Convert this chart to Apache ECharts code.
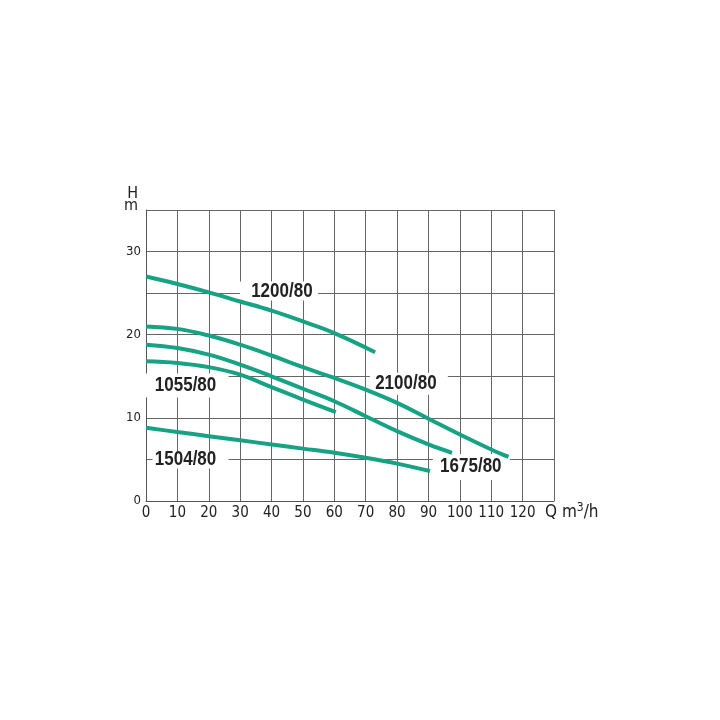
<!DOCTYPE html>
<html>
<head><meta charset="utf-8"></head>
<script type="text/javascript" src="https://cdn.jsdelivr.net/npm/echarts@6/dist/echarts.min.js"></script>
<body style="margin:0;background:#fff;">
    <div id="main" style="width:720px;height:720px;"></div>
</body>
<script type="text/javascript">
// 流量 Q (m3/h) / 扬程 H (m)
var q1200 = [0, 10, 20, 30, 40, 50, 60, 73]
var h1200 = [27.0, 26.1, 25.1, 24.0, 22.9, 21.6, 20.2, 17.9]
var q2100 = [0, 10, 20, 30, 40, 50, 60, 70, 80, 90, 100, 110, 115.5]
var h2100 = [21.0, 20.7, 19.9, 18.8, 17.5, 16.1, 14.8, 13.4, 11.8, 9.9, 8.0, 6.2, 5.3]
var q1675 = [0, 10, 20, 30, 40, 50, 60, 70, 80, 90, 97.5]
var h1675 = [18.8, 18.4, 17.6, 16.4, 15.0, 13.5, 12.0, 10.2, 8.4, 6.8, 5.8]
var q1055 = [0, 10, 20, 30, 40, 50, 60.5]
var h1055 = [16.8, 16.6, 16.1, 15.2, 13.7, 12.2, 10.7]
var q1504 = [0, 10, 20, 30, 40, 50, 60, 70, 80, 90.5]
var h1504 = [8.8, 8.3, 7.8, 7.3, 6.8, 6.3, 5.8, 5.2, 4.5, 3.6]

// 型号标签位置 (数据坐标)
var labelNames = ['1200/80', '2100/80', '1675/80', '1055/80', '1504/80']
var labelQ = [43.3, 82.8, 103.5, 12.6, 12.6]
var labelH = [25.2, 14.1, 4.2, 13.9, 5.0]

var green = '#17a284'
var font = "'Liberation Sans Narrow','DejaVu Sans Condensed','Liberation Sans',sans-serif"

function pairs(xs, ys) {
    var out = []
    for (var i = 0; i < xs.length; i++) out.push([xs[i], ys[i]])
    return out
}
function curve(xs, ys) {
    return {
        type: 'line',
        data: pairs(xs, ys),
        smooth: 0.4,
        showSymbol: false,
        symbol: 'none',
        z: 3,
        lineStyle: {color: green, width: 4},
        silent: true
    }
}

var myChart = echarts.init(document.getElementById('main'))
myChart.setOption({
    animation: false,
    grid: {left: 146, right: 166, top: 210, bottom: 219},
    xAxis: {
        type: 'value',
        min: 0, max: 130, interval: 10,
        name: '{b|Q m}{s|3}{b|/h}',
        nameLocation: 'end',
        nameGap: -9,
        nameTextStyle: {
            verticalAlign: 'top',
            padding: [1, 0, 0, 0],
            rich: {
                b: {fontSize: 17, color: '#222', fontFamily: font},
                s: {fontSize: 12, color: '#222', fontFamily: font, padding: [0, 0, 9, 0]}
            }
        },
        axisLine: {lineStyle: {color: '#555', width: 1}},
        axisTick: {show: false},
        axisLabel: {
            color: '#222', fontSize: 15, fontFamily: font, margin: 5,
            formatter: function (v) { return v >= 130 ? '' : v }
        },
        splitLine: {show: true, lineStyle: {color: '#666', width: 1}}
    },
    yAxis: {
        type: 'value',
        min: 0, max: 35, interval: 5,
        name: 'H\nm',
        nameLocation: 'end',
        nameGap: -2,
        nameTextStyle: {
            align: 'right', verticalAlign: 'bottom',
            fontSize: 16, lineHeight: 12, color: '#222', fontFamily: font,
            padding: [0, 8, 0, 0]
        },
        axisLine: {show: true, lineStyle: {color: '#555', width: 1}},
        axisTick: {show: false},
        axisLabel: {
            color: '#222', fontSize: 13, fontFamily: font, margin: 5,
            formatter: function (v) { return v % 10 === 0 && v < 35 ? v : '' }
        },
        splitLine: {show: true, lineStyle: {color: '#666', width: 1}}
    },
    series: [
        curve(q1200, h1200),
        curve(q2100, h2100),
        curve(q1675, h1675),
        curve(q1055, h1055),
        curve(q1504, h1504)
    ]
})

// 标签白底 [左, 右, 上, 下] 相对文字中心
var boxes = [[-42, 36, -10, 9], [-36, 42, -11, 11], [-38, 39, -12, 14], [-41, 43, -12, 12], [-33, 43, -8, 9]]
var graphics = []
for (var i = 0; i < labelNames.length; i++) {
    var p = myChart.convertToPixel({gridIndex: 0}, [labelQ[i], labelH[i]])
    var b = boxes[i]
    graphics.push({
        type: 'group',
        x: p[0], y: p[1],
        z: 1,
        silent: true,
        children: [
            {type: 'rect', z: 1, shape: {x: b[0], y: b[2], width: b[1] - b[0], height: b[3] - b[2]}, style: {fill: '#fff'}},
            {type: 'text', z: 1, scaleX: 0.85, style: {
                text: labelNames[i], fill: '#222', align: 'center', verticalAlign: 'middle',
                font: "bold 20px 'Liberation Sans', Arial, sans-serif"
            }}
        ]
    })
}
myChart.setOption({graphic: graphics})
</script>
</html>
